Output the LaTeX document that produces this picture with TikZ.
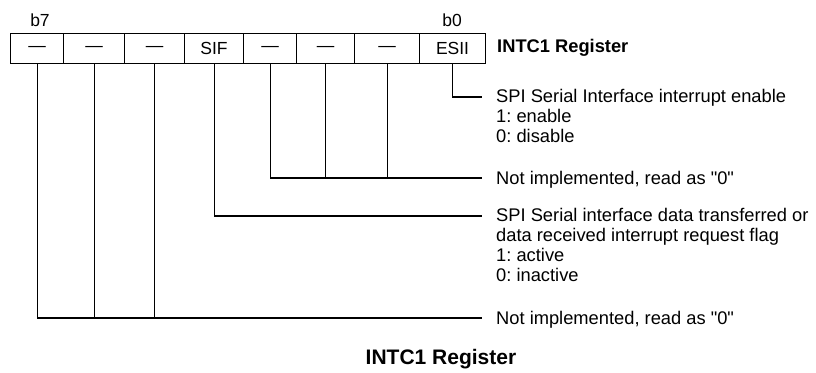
\documentclass[tikz,border=0pt]{standalone}
\usepackage{fontspec}
\setmainfont{Liberation Sans}[Ligatures=TeXOff]
\frenchspacing
\begin{document}
\begin{tikzpicture}[x=1pt,y=-1pt,
  cell/.style={draw, line width=1.1pt, minimum height=30pt, inner sep=0pt, anchor=north west, font=\fontsize{17.5}{20}\selectfont},
  lbl/.style={inner sep=0pt, align=left, font=\fontsize{18.3}{20}\selectfont},
  bitlbl/.style={inner sep=0pt, font=\fontsize{17.5}{20}\selectfont},
  wire/.style={line width=1.1pt}]
\useasboundingbox (0,0) rectangle (816,372);
% register cells (b7 ... b0)
\node[cell, minimum width=53pt] (c7) at (10,33)  {—};
\node[cell, minimum width=61pt] (c6) at (63,33)  {—};
\node[cell, minimum width=60pt] (c5) at (124,33) {—};
\node[cell, minimum width=59pt] (c4) at (184,33) {SIF};
\node[cell, minimum width=53pt] (c3) at (243,33) {—};
\node[cell, minimum width=58pt] (c2) at (296,33) {—};
\node[cell, minimum width=65pt] (c1) at (354,33) {—};
\node[cell, minimum width=66pt] (c0) at (419,33) {ESII};
\node[bitlbl] (b7) at (40,20) {b7};
\node[bitlbl] (b0) at (452,20) {b0};
\node[lbl, anchor=west, font=\bfseries\fontsize{18.3}{20}\selectfont] (reg) at (497,48) {INTC1 Register};
% end points of connectors
\coordinate (e0) at (482,97);
\coordinate (e1) at (482,178);
\coordinate (e2) at (482,216);
\coordinate (e3) at (482,318);
% connectors
\draw[wire] (c0.south) |- (e0);
\draw[wire] (c3.south) |- (e1);
\draw[wire] (c2.south) -- (c2.south |- e1);
\draw[wire] (c1.south) -- (c1.south |- e1);
\draw[wire] (c4.south) |- (e2);
\draw[wire] (c7.south) |- (e3);
\draw[wire] (c6.south) -- (c6.south |- e3);
\draw[wire] (c5.south) -- (c5.south |- e3);
% descriptions
\node[lbl, anchor=north west] (t0) at (496,89) {SPI Serial Interface interrupt enable\\1: enable\\0: disable};
\node[lbl, anchor=base west] (t1) at (496,184.6) {Not implemented, read as "0"};
\node[lbl, anchor=north west] (t2) at (496,208) {SPI Serial interface data transferred or\\data received interrupt request flag\\1: active\\0: inactive};
\node[lbl, anchor=base west] (t3) at (496,324.6) {Not implemented, read as "0"};
% caption
\node[inner sep=0pt, font=\bfseries\fontsize{21}{24}\selectfont] (cap) at (441,359) {INTC1 Register};
\end{tikzpicture}
\end{document}
